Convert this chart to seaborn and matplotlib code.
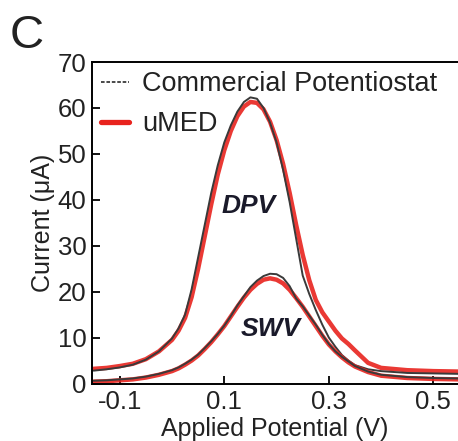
import numpy as np
import pandas as pd
import seaborn as sns
import matplotlib
matplotlib.use("Agg")
import matplotlib.pyplot as plt
from matplotlib.lines import Line2D

# ---- data ----
potential = [-0.15, -0.125, -0.10, -0.075, -0.05, -0.025, 0.0, 0.0125, 0.025, 0.0375,
             0.05, 0.0625, 0.075, 0.0875, 0.10, 0.1125, 0.125, 0.1375, 0.15, 0.1625,
             0.175, 0.1875, 0.20, 0.2125, 0.225, 0.2375, 0.25, 0.2625, 0.275, 0.2875,
             0.30, 0.3125, 0.325, 0.3375, 0.35, 0.375, 0.40, 0.45, 0.50, 0.55]

dpv_commercial = [2.8, 3.1, 3.5, 4.1, 5.2, 7.0, 9.8, 12.0, 15.0, 20.5,
                  27.5, 34.5, 41.5, 47.5, 52.5, 56.2, 59.2, 61.3, 62.3, 62.0,
                  60.0, 56.8, 52.5, 46.5, 39.5, 31.5, 23.5, 19.5, 16.0, 12.8,
                  10.0, 8.0, 6.2, 5.0, 4.0, 3.1, 2.7, 2.3, 2.2, 2.1]

dpv_umed = [3.2, 3.4, 3.8, 4.3, 5.3, 7.0, 9.5, 11.5, 14.3, 18.8,
            25.0, 32.0, 39.0, 45.5, 50.8, 55.0, 58.2, 60.3, 61.3, 61.1,
            59.7, 57.0, 53.0, 47.8, 41.5, 34.5, 28.0, 22.5, 18.2, 15.5,
            13.5, 11.5, 9.8, 8.6, 7.2, 4.5, 3.4, 2.9, 2.7, 2.6]

swv_commercial = [0.6, 0.7, 0.9, 1.1, 1.5, 2.1, 2.9, 3.5, 4.3, 5.2,
                  6.3, 7.7, 9.2, 10.8, 12.6, 14.7, 17.0, 19.0, 21.0, 22.4,
                  23.4, 23.9, 23.8, 23.0, 21.2, 18.5, 16.8, 14.8, 12.8, 10.6,
                  8.6, 7.0, 5.8, 4.8, 3.8, 2.6, 1.9, 1.4, 1.2, 1.1]

swv_umed = [0.4, 0.5, 0.7, 0.9, 1.3, 1.9, 2.7, 3.3, 4.1, 5.0,
            6.1, 7.5, 9.0, 10.7, 12.5, 14.6, 16.7, 18.7, 20.4, 21.7,
            22.6, 22.9, 22.6, 21.8, 20.4, 18.6, 16.7, 14.6, 12.5, 10.4,
            8.5, 7.0, 5.7, 4.6, 3.7, 2.5, 1.7, 1.2, 1.0, 0.9]

series_labels = ["Commercial Potentiostat", "uMED"]
xticks = [-0.1, 0.1, 0.3, 0.5]
xticklabels = ["-0.1", "0.1", "0.3", "0.5"]
yticks = [0, 10, 20, 30, 40, 50, 60, 70]

# ---- style ----
sns.set_theme(style="ticks")
plt.rcParams["font.family"] = ["Liberation Sans", "DejaVu Sans"]
plt.rcParams["lines.solid_joinstyle"] = "round"

fig = plt.figure(figsize=(4.58, 4.41), dpi=100)
ax = fig.add_axes([0.2009, 0.1293, 0.7991, 0.7301])

red = "#e8231e"
dark = "#3a3a3a"
txt = "#222222"

for umed, comm in [(dpv_umed, dpv_commercial), (swv_umed, swv_commercial)]:
    sns.lineplot(x=potential, y=umed, ax=ax, color=red, linewidth=3.2, alpha=0.9)
    sns.lineplot(x=potential, y=comm, ax=ax, color=dark, linewidth=1.4)

ax.set_xlim(-0.153, 0.547)
ax.set_ylim(-0.1, 70)
ax.set_xticks(xticks)
ax.set_xticklabels(xticklabels)
ax.set_yticks(yticks)
ax.tick_params(direction="in", length=6, width=1.3, labelsize=18.5, colors="black",
               labelcolor=txt, pad=4)
for s in ["left", "bottom", "top"]:
    ax.spines[s].set_linewidth(1.4)
    ax.spines[s].set_color("black")
ax.spines["right"].set_visible(False)

ax.set_xlabel("Applied Potential (V)", fontsize=18, labelpad=2.5, color=txt)
ax.set_ylabel("Current (μA)", fontsize=18, labelpad=2, color=txt)

ax.text(0.147, 38.6, "DPV", fontsize=19, fontweight="bold", fontstyle="italic",
        ha="center", va="center", color="#1a1a2a")
ax.text(0.188, 11.8, "SWV", fontsize=19, fontweight="bold", fontstyle="italic",
        ha="center", va="center", color="#1a1a2a")

handles = [Line2D([], [], color=dark, linewidth=1.3, linestyle=(0, (2, 1))),
           Line2D([], [], color=red, linewidth=3.8)]
leg = ax.legend(handles, series_labels, loc="upper left", bbox_to_anchor=(0.0, 1.0),
                frameon=False, fontsize=19.5, handlelength=1.0, handletextpad=0.5,
                labelspacing=0.5, borderaxespad=0.1, borderpad=0.25)
for t in leg.get_texts():
    t.set_color(txt)

fig.text(0.022, 0.968, "C", fontsize=34, ha="left", va="top", color=txt)

fig.savefig("out.png", dpi=100)
